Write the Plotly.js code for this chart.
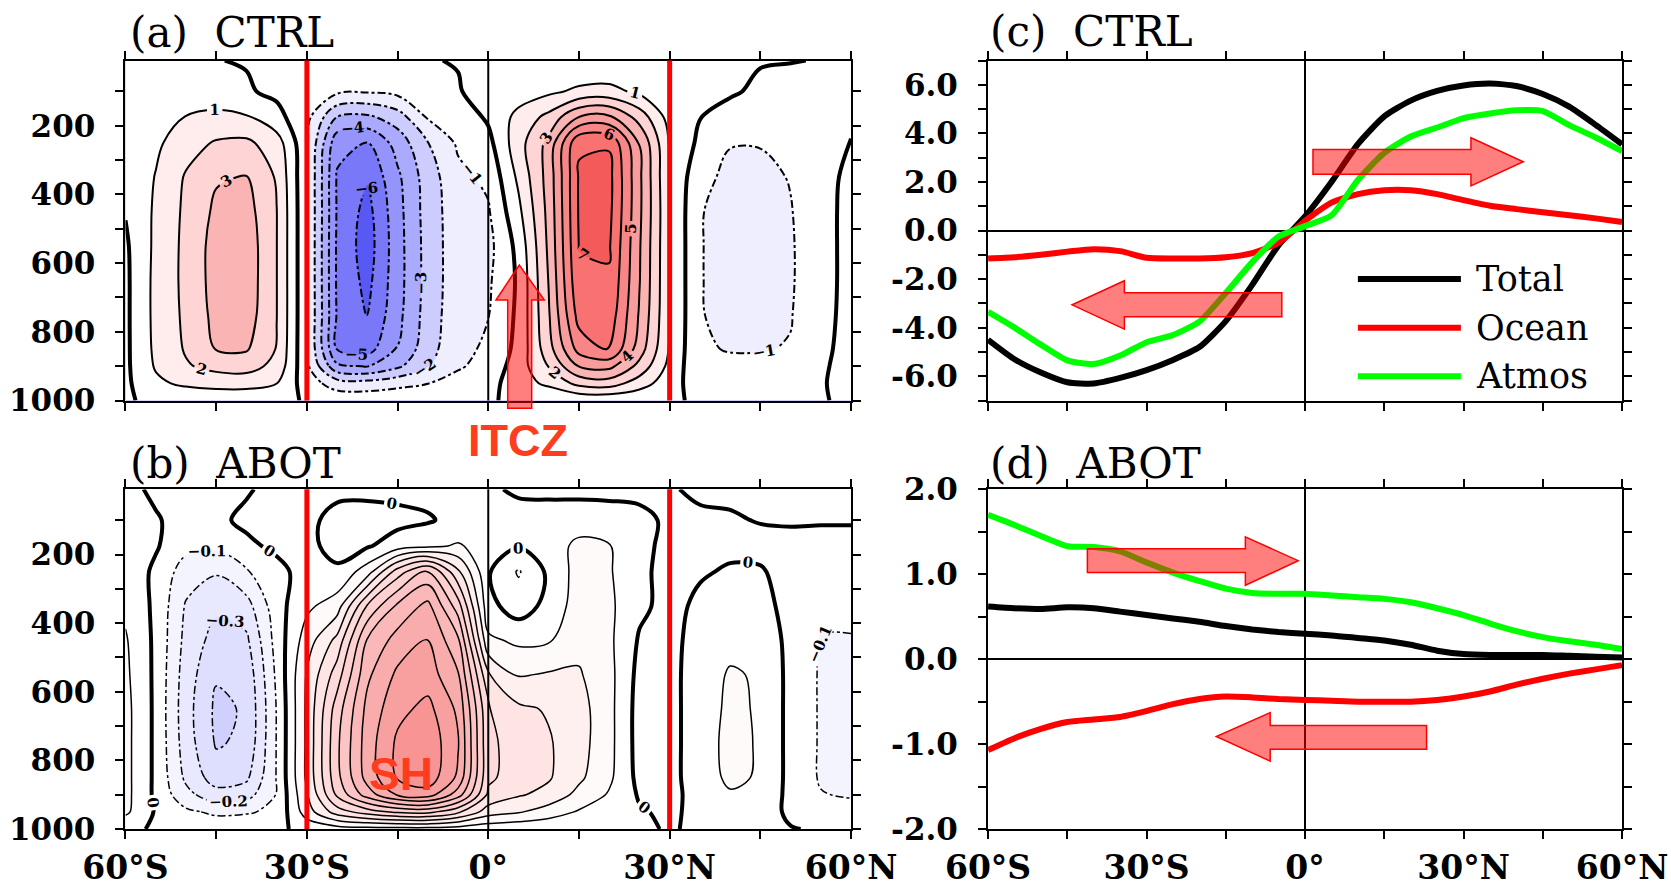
<!DOCTYPE html>
<html><head><meta charset="utf-8">
<script src="https://cdn.plot.ly/plotly-3.0.1.min.js"></script>
<style>html,body{margin:0;padding:0;background:#fff;}#chart{width:1671px;height:890px;}</style>
</head><body><div id="chart"></div>
<script>
// ---------------- data ----------------
const lat = [-60,-55,-50,-45,-40,-35,-30,-25,-20,-15,-10,-5,0,5,10,15,20,25,30,35,40,45,50,55,60];
const pres = [1000,950,900,850,750,650,550,450,350,250,175,100,10];

// (a) CTRL mass streamfunction, rows follow pres, columns follow lat
const ctrlPsi = [
 [-0.05,0.1,0.15,0.2,0.2,0.15,-0.05,-0.3,-0.3,-0.25,-0.2,-0.1,-0.05,0.1,0.1,0.15,0.15,0.1,0.05,-0.05,-0.05,-0.05,-0.05,-0.02,0.05],
 [-0.2,0.8,1.2,1.4,1.4,1.02,-0.5,-1.5,-1.6,-1.3,-1.02,-0.7,-0.4,0.6,1.2,2.3,2.5,1.5,0.4,-0.5,-0.4,-0.4,-0.35,-0.05,0.2],
 [-0.2,1.1,1.9,2.3,2.4,1.7,-0.8,-3.8,-4.05,-3.2,-2.05,-1.1,-0.7,0.5,2.05,4.05,4.3,2.7,0.7,-0.8,-0.8,-0.8,-0.75,-0.1,0.25],
 [-0.2,1.2,2.1,3.05,3.1,1.95,-0.9,-5.05,-5.4,-3.95,-2.4,-1.25,-0.85,0.3,2.6,5.4,6.05,3.5,0.9,-0.9,-1.05,-1.05,-0.95,-0.2,0.3],
 [-0.2,1.25,2.2,3.3,3.5,2.02,-0.9,-5.1,-6.05,-4.3,-2.55,-1.35,-1.03,0.2,2.9,6.4,6.6,3.9,1.03,-0.95,-1.25,-1.3,-1.05,-0.3,0.3],
 [-0.2,1.25,2.25,3.4,3.6,2.02,-0.9,-5.15,-6.3,-4.4,-2.6,-1.4,-1.15,0.15,3.05,6.85,6.9,4.05,1.03,-0.95,-1.35,-1.4,-1.1,-0.35,0.3],
 [-0.15,1.2,2.25,3.4,3.6,2.02,-0.9,-5.15,-6.5,-4.4,-2.6,-1.4,-1.3,0.3,3.2,7.03,7.1,4.1,1.03,-0.95,-1.35,-1.4,-1.1,-0.35,0.3],
 [0.05,1.15,2.2,3.2,3.4,2.02,-0.9,-5.1,-6.35,-4.35,-2.55,-1.4,-1.1,0.75,3.3,7.1,7.25,4.2,1.03,-0.95,-1.3,-1.35,-1.05,-0.35,0.3],
 [0.1,1.05,2.1,2.9,3.05,1.9,-0.9,-5.1,-5.9,-4.2,-2.5,-1.25,-0.8,1.2,3.4,7.1,7.3,4.2,0.95,-0.7,-1.25,-1.25,-0.95,-0.3,0.2],
 [0.15,0.8,1.6,2.1,2.2,1.5,-0.85,-4.7,-5.03,-3.6,-2.03,-0.85,-0.3,1.6,3.3,6.9,6.9,3.97,0.9,-0.2,-0.95,-0.95,-0.7,-0.25,0.02],
 [0.2,0.5,1.03,1.2,1.1,0.3,-0.7,-3.03,-3.2,-2.5,-0.9,-0.6,0.15,1.3,2.3,4.03,4.2,2.6,0.6,0.02,-0.3,-0.5,-0.4,-0.2,-0.1],
 [0.2,0.3,0.5,0.5,0.1,-0.2,-0.4,-0.8,-0.9,-0.7,-0.3,-0.05,0.3,0.5,0.8,1.2,1.3,0.8,0.15,0.2,0.1,-0.15,-0.2,-0.15,-0.1],
 [0.1,0.1,0.05,0.02,-0.05,-0.05,-0.05,-0.05,-0.05,-0.05,-0.03,0.03,0.05,0.05,0.05,0.05,0.05,0.05,0.05,0.05,0.05,0.05,0.02,-0.02,-0.02]
];

// (b) ABOT mass streamfunction, rows follow pres, columns follow lat
const abotPsi = [
 [0.02,-0.01,-0.02,-0.03,-0.03,-0.02,0.03,0.05,0.06,0.06,0.06,0.05,0.03,0.02,0.02,0.02,0.01,0.01,-0.005,0.01,0.02,0.02,0.005,-0.01,-0.01],
 [0.12,-0.01,-0.08,-0.12,-0.11,-0.08,0.15,0.35,0.45,0.52,0.53,0.42,0.25,0.21,0.15,0.09,0.06,0.01,-0.02,0.03,0.06,0.05,-0.02,-0.05,-0.06],
 [0.13,-0.02,-0.17,-0.26,-0.24,-0.095,0.19,0.52,0.75,0.91,0.95,0.75,0.38,0.31,0.27,0.17,0.09,-0.01,-0.03,0.04,0.09,0.08,-0.03,-0.095,-0.11],
 [0.13,-0.02,-0.22,-0.35,-0.32,-0.095,0.22,0.57,0.84,1.01,1.06,0.88,0.42,0.35,0.31,0.22,0.12,-0.03,-0.03,0.05,0.12,0.09,-0.03,-0.11,-0.13],
 [0.13,-0.02,-0.25,-0.41,-0.38,-0.095,0.22,0.58,0.85,1.02,1.07,0.91,0.42,0.36,0.31,0.24,0.13,-0.04,-0.03,0.05,0.13,0.09,-0.03,-0.11,-0.13],
 [0.13,-0.02,-0.26,-0.42,-0.39,-0.095,0.22,0.55,0.83,0.97,1.03,0.88,0.41,0.32,0.29,0.24,0.13,-0.04,-0.03,0.05,0.12,0.09,-0.03,-0.11,-0.13],
 [0.12,-0.02,-0.25,-0.39,-0.37,-0.08,0.21,0.45,0.78,0.92,0.95,0.81,0.31,0.19,0.21,0.21,0.13,-0.03,-0.03,0.05,0.11,0.09,-0.03,-0.11,-0.12],
 [0.11,-0.02,-0.23,-0.34,-0.32,-0.06,0.15,0.33,0.71,0.84,0.905,0.72,0.12,0.08,0.09,0.17,0.12,-0.01,-0.03,0.04,0.07,0.07,-0.03,-0.105,-0.105],
 [0.08,-0.02,-0.21,-0.28,-0.24,-0.04,0.08,0.15,0.51,0.72,0.83,0.55,0.03,-0.05,0.03,0.15,0.12,0.02,-0.03,0.02,0.04,0.04,-0.04,-0.08,-0.08],
 [0.07,-0.02,-0.15,-0.19,-0.11,-0.03,0.04,0.02,0.15,0.45,0.62,0.32,0.01,-0.11,0.02,0.14,0.11,0.02,-0.03,-0.01,0.01,0.01,-0.04,-0.06,-0.06],
 [0.06,0.01,-0.07,-0.08,-0.02,0.02,0.03,-0.04,-0.01,0.05,0.08,0.11,0.06,0.01,0.06,0.12,0.105,0.03,-0.03,-0.03,-0.02,-0.03,-0.03,-0.04,-0.04],
 [0.05,0.01,-0.04,-0.02,0.02,0.04,0.03,-0.04,-0.05,-0.03,-0.01,0.03,0.05,0.05,0.06,0.06,0.05,0.03,-0.02,-0.02,-0.01,0.005,0.01,0.01,0.01],
 [0.03,-0.02,-0.04,-0.04,-0.01,0.03,0.02,0.03,0.03,0.03,0.03,0.03,0.02,-0.02,-0.03,-0.03,-0.03,-0.03,-0.01,0.02,0.02,0.03,0.03,0.03,0.03]
];

// (c) CTRL and (d) ABOT heat transport (PW), on lat
const ctrlTotal = [-4.5,-5.3,-5.85,-6.25,-6.3,-6.07,-5.75,-5.33,-4.8,-3.73,-2.24,-0.6,0.58,2.0,3.56,4.7,5.35,5.75,5.97,6.05,5.95,5.62,5.1,4.35,3.55];
const ctrlOcean = [-1.15,-1.1,-1.0,-0.87,-0.77,-0.85,-1.12,-1.15,-1.15,-1.1,-0.93,-0.5,0.4,1.15,1.5,1.66,1.66,1.5,1.25,1.02,0.88,0.75,0.63,0.5,0.35];
const ctrlAtmos = [-3.35,-4.0,-4.7,-5.35,-5.5,-5.15,-4.6,-4.3,-3.75,-2.57,-1.3,-0.25,0.18,0.62,2.08,3.2,3.87,4.24,4.63,4.82,4.95,4.92,4.34,3.83,3.27];
const abotTotal = [0.62,0.6,0.59,0.61,0.6,0.56,0.52,0.48,0.44,0.39,0.35,0.32,0.3,0.28,0.25,0.22,0.17,0.1,0.06,0.05,0.05,0.05,0.04,0.03,0.02];
const abotOcean = [-1.07,-0.93,-0.82,-0.74,-0.71,-0.68,-0.61,-0.53,-0.47,-0.44,-0.45,-0.47,-0.48,-0.49,-0.5,-0.5,-0.5,-0.48,-0.44,-0.38,-0.3,-0.23,-0.17,-0.12,-0.07];
const abotAtmos = [1.7,1.58,1.45,1.33,1.32,1.27,1.14,1.02,0.92,0.83,0.78,0.77,0.77,0.75,0.73,0.71,0.67,0.6,0.52,0.42,0.33,0.26,0.21,0.17,0.12];

const seriesNames = ['Total','Ocean','Atmos'];
const panelTitles = ['(a)\u00a0 CTRL','(b)\u00a0 ABOT','(c)\u00a0 CTRL','(d)\u00a0 ABOT'];
const latTickVals = [-60,-45,-30,-15,0,15,30,45,60];
const latTickText = ['60°S','','30°S','','0°','','30°N','','60°N'];
const presTickVals = [100,200,300,400,500,600,700,800,900,1000];
const presTickText = ['','200','','400','','600','','800','','1000'];
const ctrlTickVals = [-7,-6,-5,-4,-3,-2,-1,0,1,2,3,4,5,6,7];
const ctrlTickText = ['','-6.0','','-4.0','','-2.0','','0.0','','2.0','','4.0','','6.0',''];
const abotTickVals = [-2,-1.5,-1,-0.5,0,0.5,1,1.5,2];
const abotTickText = ['-2.0','','-1.0','','0.0','','1.0','','2.0'];

// ---------------- styling ----------------
const ctrlBands = ['#4848ec','#5858f4','#7878f8','#9494fc','#aaaaff','#ccccff','#eeeeff','#ffffff',
                   '#ffffff','#ffecec','#ffd4d4','#fab4b4','#f99c9c','#f88686','#f87272','#f45a5a'];
const abotBands = ['#c4c4ff','#d0d0ff','#dedeff','#e8e8ff','#f4f4ff','#ffffff','#ffffff','#fffafa','#fff0f0',
                   '#ffe4e4','#ffdada','#fed0d0','#fcc4c4','#fab8b8','#f9acac','#f8a0a0','#f89494','#f48888'];
function bandScale(colors){ const n = colors.length - 1; return colors.map((c,i)=>[i/n, c]); }

function fillTrace(z, xa, ya, start, end, size, bands){
  return {type:'contour', x:lat, y:pres, z:z, xaxis:xa, yaxis:ya, autocontour:false,
    contours:{start:start, end:end, size:size, coloring:'fill', showlines:false},
    colorscale:bandScale(bands), showscale:false, line:{width:0, smoothing:1}, hoverinfo:'skip'};
}
function lineTrace(z, xa, ya, start, end, size, width, dash, labels, fmt){
  return {type:'contour', x:lat, y:pres, z:z, xaxis:xa, yaxis:ya, autocontour:false,
    contours:{start:start, end:end, size:size, coloring:'none', showlines:true, showlabels:labels,
      labelfont:{family:'DejaVu Serif', size:15, color:'#000', weight:'bold'}, labelformat:fmt},
    line:{color:'#000', width:width, dash:dash, smoothing:1}, showscale:false, hoverinfo:'skip'};
}
function seriesTrace(x, y, xa, ya, color, name){
  return {type:'scatter', mode:'lines', x:x, y:y, xaxis:xa, yaxis:ya, name:name, showlegend:false,
    line:{color:color, width:6, shape:'spline', smoothing:0.6}, hoverinfo:'skip'};
}

const dashNeg = '8px,3px,3px,3px';
const traces = [
  fillTrace(ctrlPsi,'x','y',-7,7,1,ctrlBands),
  lineTrace(ctrlPsi,'x','y',1,7,1,2,'solid',true,'.0f'),
  lineTrace(ctrlPsi,'x','y',-7,-1,1,2,dashNeg,true,'.0f'),
  lineTrace(ctrlPsi,'x','y',0,0.5,1,4,'solid',false,'.0f'),
  fillTrace(abotPsi,'x3','y3',-0.5,1.1,0.1,abotBands),
  lineTrace(abotPsi,'x3','y3',0.1,1.1,0.1,1.5,'solid',false,'.1f'),
  lineTrace(abotPsi,'x3','y3',-0.5,-0.1,0.1,1.5,dashNeg,true,'.1f'),
  lineTrace(abotPsi,'x3','y3',0,0.05,1,4,'solid',true,'.0f'),
  seriesTrace(lat, ctrlTotal,'x2','y2','#000000',seriesNames[0]),
  seriesTrace(lat, ctrlOcean,'x2','y2','#ff0000',seriesNames[1]),
  seriesTrace(lat, ctrlAtmos,'x2','y2','#00ff00',seriesNames[2]),
  seriesTrace(lat, abotTotal,'x4','y4','#000000',seriesNames[0]),
  seriesTrace(lat, abotOcean,'x4','y4','#ff0000',seriesNames[1]),
  seriesTrace(lat, abotAtmos,'x4','y4','#00ff00',seriesNames[2])
];

const tickFontY = {family:'DejaVu Serif', size:31, color:'#000', weight:'bold'};
const tickFontX = {family:'DejaVu Serif', size:33, color:'#000', weight:'bold'};
function axis(extra){
  return Object.assign({showline:true, linecolor:'#000', linewidth:2, mirror:'ticks', ticks:'outside',
    ticklen:8, tickwidth:2, tickcolor:'#000', showgrid:false, zeroline:false, tickmode:'array', fixedrange:true}, extra);
}
const domLeft = [0.0751, 0.5093], domRight = [0.5913, 0.9707];
const domTop = [0.5500, 0.9320], domBot = [0.0685, 0.4502];

const layout = {
  width:1671, height:890, margin:{l:0,r:0,t:0,b:0}, paper_bgcolor:'#fff', plot_bgcolor:'#fff', showlegend:false,
  xaxis: axis({domain:domLeft, anchor:'y', range:[-60,60], tickvals:latTickVals, ticktext:latTickText, showticklabels:false}),
  yaxis: axis({domain:domTop, anchor:'x', range:[1000,10], tickvals:presTickVals, ticktext:presTickText, tickfont:tickFontY, ticklabelstandoff:14}),
  xaxis2: axis({domain:domRight, anchor:'y2', range:[-60,60], tickvals:latTickVals, ticktext:latTickText, showticklabels:false,
           zeroline:true, zerolinecolor:'#000', zerolinewidth:2}),
  yaxis2: axis({domain:domTop, anchor:'x2', range:[-7,7], tickvals:ctrlTickVals, ticktext:ctrlTickText, tickfont:tickFontY, ticklabelstandoff:14,
           zeroline:true, zerolinecolor:'#000', zerolinewidth:2}),
  xaxis3: axis({domain:domLeft, anchor:'y3', range:[-60,60], tickvals:latTickVals, ticktext:latTickText, tickfont:tickFontX, ticklabelstandoff:0}),
  yaxis3: axis({domain:domBot, anchor:'x3', range:[1000,10], tickvals:presTickVals, ticktext:presTickText, tickfont:tickFontY, ticklabelstandoff:14}),
  xaxis4: axis({domain:domRight, anchor:'y4', range:[-60,60], tickvals:latTickVals, ticktext:latTickText, tickfont:tickFontX, ticklabelstandoff:0,
           zeroline:true, zerolinecolor:'#000', zerolinewidth:2}),
  yaxis4: axis({domain:domBot, anchor:'x4', range:[-2,2], tickvals:abotTickVals, ticktext:abotTickText, tickfont:tickFontY, ticklabelstandoff:14,
           zeroline:true, zerolinecolor:'#000', zerolinewidth:2}),
  shapes: [],
  annotations: []
};

// equator and 30° lines on the streamfunction panels
[['x','y'],['x3','y3']].forEach(([xa,ya])=>{
  layout.shapes.push({type:'line', xref:xa, yref:ya+' domain', x0:0, x1:0, y0:0, y1:1, line:{color:'#000', width:2}, layer:'above'});
  [-30,30].forEach(v=>layout.shapes.push({type:'line', xref:xa, yref:ya+' domain', x0:v, x1:v, y0:0, y1:1, line:{color:'#ff0000', width:5}, layer:'above'}));
});

// transport arrows
const arrowStyle = {type:'path', fillcolor:'rgba(255,0,0,0.5)', line:{color:'#ff0000', width:1.5}, layer:'above'};
layout.shapes.push(Object.assign({xref:'x2', yref:'y2', path:'M 1.5,2.32 L 31.4,2.32 L 31.4,1.84 L 41.3,2.83 L 31.4,3.82 L 31.4,3.34 L 1.5,3.34 Z'}, arrowStyle));
layout.shapes.push(Object.assign({xref:'x2', yref:'y2', path:'M -4.4,-2.56 L -34.2,-2.56 L -34.2,-2.07 L -44.1,-3.06 L -34.2,-4.06 L -34.2,-3.55 L -4.4,-3.55 Z'}, arrowStyle));
layout.shapes.push(Object.assign({xref:'x4', yref:'y4', path:'M -41.2,1.02 L -11.3,1.02 L -11.3,0.87 L -1.3,1.16 L -11.3,1.44 L -11.3,1.30 L -41.2,1.30 Z'}, arrowStyle));
layout.shapes.push(Object.assign({xref:'x4', yref:'y4', path:'M 23,-0.78 L -6.6,-0.78 L -6.6,-0.63 L -16.8,-0.91 L -6.6,-1.2 L -6.6,-1.06 L 23,-1.06 Z'}, arrowStyle));
// ITCZ arrow (paper coordinates)
layout.shapes.push(Object.assign({xref:'paper', yref:'paper',
  path:'M 0.30383,0.54124 L 0.30383,0.66292 L 0.29683,0.66292 L 0.31077,0.70225 L 0.32573,0.66292 L 0.31819,0.66292 L 0.31819,0.54124 Z'}, arrowStyle));

// legend of panel (c)
const legendColors = ['#000000','#ff0000','#00ff00'];
[-2,-4,-6].forEach((yv,i)=>{
  layout.shapes.push({type:'line', xref:'x2', yref:'y2', x0:10, x1:29.5, y0:yv, y1:yv, line:{color:legendColors[i], width:6}, layer:'above'});
  layout.annotations.push({xref:'x2', yref:'y2', x:32, y:yv, text:seriesNames[i], showarrow:false, xanchor:'left', yanchor:'middle',
    font:{family:'DejaVu Serif', size:35, color:'#000'}});
});

// panel titles
const titlePos = [[0.0766,0.9640],[0.0766,0.4795],[0.5913,0.9650],[0.5913,0.4795]];
panelTitles.forEach((t,i)=>{
  layout.annotations.push({xref:'paper', yref:'paper', x:titlePos[i][0], y:titlePos[i][1], text:t, showarrow:false,
    xanchor:'left', yanchor:'middle', font:{family:'DejaVu Serif', size:42, color:'#000'}});
});
// ITCZ / SH labels
layout.annotations.push({xref:'paper', yref:'paper', x:518/1671, y:1-440/890, text:'ITCZ', showarrow:false, xanchor:'center', yanchor:'middle',
  font:{family:'Liberation Sans', size:45, color:'#ff3c1e', weight:'bold'}});
layout.annotations.push({xref:'paper', yref:'paper', x:401/1671, y:1-774/890, text:'SH', showarrow:false, xanchor:'center', yanchor:'middle',
  font:{family:'Liberation Sans', size:46, color:'#ff3c1e', weight:'bold'}});

Plotly.newPlot('chart', traces, layout, {displayModeBar:false, staticPlot:true});
</script>
</body></html>
